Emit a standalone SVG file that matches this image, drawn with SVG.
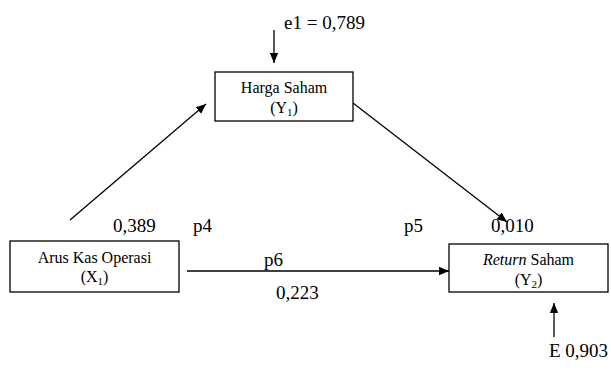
<svg xmlns="http://www.w3.org/2000/svg" width="611" height="370" viewBox="0 0 611 370">
<defs>
<marker id="ah" markerWidth="10" markerHeight="10" viewBox="0 0 10 10" refX="10" refY="5" orient="auto" markerUnits="userSpaceOnUse">
<path d="M0,0.8 L10,5 L0,9.2 Z" fill="#000"/>
</marker>
<style>
.box{fill:#fff;stroke:#000;stroke-width:1.3}
.nt{font-family:"Liberation Serif","Times New Roman",serif;font-size:16px;fill:#000;text-anchor:middle}
.lb{font-family:"Liberation Serif","Times New Roman",serif;font-size:19px;fill:#000}
.cn{stroke:#000;stroke-width:1.3;fill:none;marker-end:url(#ah)}
.sub{font-size:11px}
</style>
</defs>
<rect width="611" height="370" fill="#fff"/>
<g id="connectors">
<line class="cn" x1="70" y1="220" x2="206" y2="104"/>
<line class="cn" x1="353" y1="103" x2="507" y2="222"/>
<line class="cn" x1="187" y1="271" x2="449" y2="271"/>
<line class="cn" x1="274" y1="30" x2="274" y2="63"/>
<line class="cn" x1="554" y1="337" x2="554" y2="303"/>
</g>
<g id="node-harga">
<rect class="box" x="215" y="72" width="138" height="49"/>
<text class="nt" x="284" y="93">Harga Saham</text>
<text class="nt" x="284" y="113">(Y<tspan class="sub" dy="3">1</tspan><tspan dy="-3">)</tspan></text>
</g>
<g id="node-arus">
<rect class="box" x="10" y="241" width="169" height="51"/>
<text class="nt" x="94.5" y="263">Arus Kas Operasi</text>
<text class="nt" x="94.5" y="282">(X<tspan class="sub" dy="3">1</tspan><tspan dy="-3">)</tspan></text>
</g>
<g id="node-return">
<rect class="box" x="449" y="244" width="159" height="48"/>
<text class="nt" x="528.5" y="265"><tspan font-style="italic">Return</tspan> Saham</text>
<text class="nt" x="528.5" y="285">(Y<tspan class="sub" dy="3">2</tspan><tspan dy="-3">)</tspan></text>
</g>
<g id="labels">
<text class="lb" x="284" y="29">e1 = 0,789</text>
<text class="lb" x="113" y="232">0,389</text>
<text class="lb" x="193" y="232">p4</text>
<text class="lb" x="404" y="232">p5</text>
<text class="lb" x="491" y="232">0,010</text>
<text class="lb" x="264" y="266">p6</text>
<text class="lb" x="276" y="299">0,223</text>
<text class="lb" x="549" y="357">E 0,903</text>
</g>
</svg>
